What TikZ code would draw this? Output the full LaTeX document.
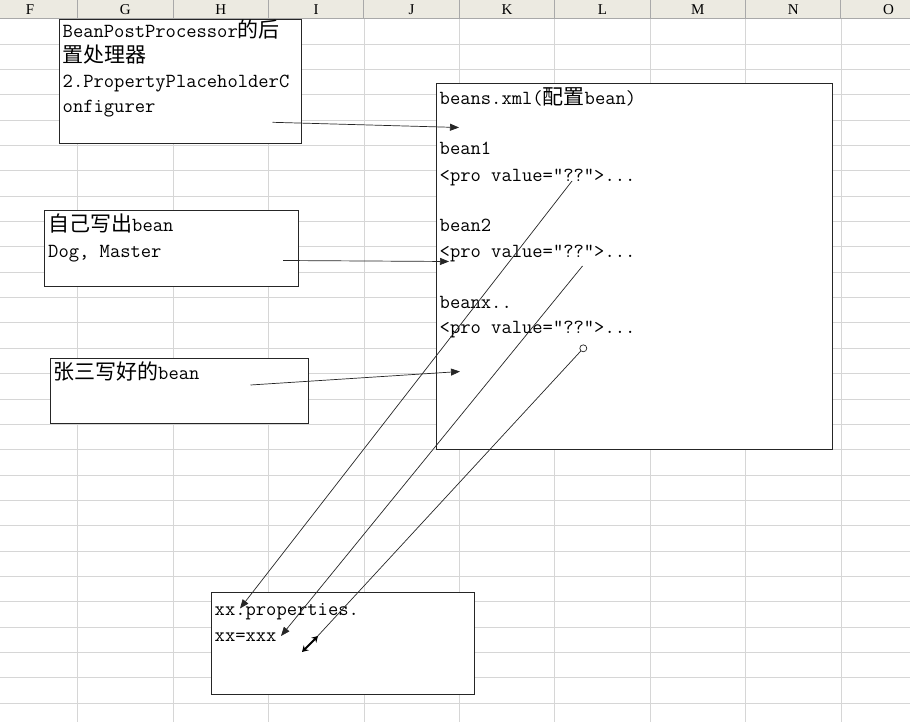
\documentclass[tikz,border=0pt]{standalone}
\usepackage{fontspec}
\usepackage{tikz}
\usetikzlibrary{arrows.meta}
\newfontfamily\latn{Latin Modern Mono}
\newfontfamily\cjk[Scale=1.05]{Noto Sans CJK SC}
\newfontfamily\hdr{Liberation Serif}
\newcommand{\zh}[1]{{\cjk #1}}
\definecolor{hdrfill}{HTML}{ECEAE1}
\definecolor{hdrline}{HTML}{A9A9A9}
\definecolor{gridline}{HTML}{D6D6D6}

\tikzset{
	cellbox/.style={draw=black!85, fill=white, line width=0.9pt, inner sep=0pt, anchor=north west},
	celltext/.style={anchor=base west, inner sep=0pt, font=\latn\fontsize{20}{24}\selectfont},
	link/.style={-{Triangle[length=9pt,width=7pt]}, line width=0.7pt, black!85},
}

\begin{document}
\begin{tikzpicture}[x=1pt, y=-1pt]
	\useasboundingbox (0,0) rectangle (910,722);
	\fill[white] (0,0) rectangle (910,722);
	% sheet grid and column heads
	\fill[hdrfill] (0,0) rectangle (910,19);
	\foreach \k in {0,...,26}
		\draw[gridline, line width=0.8pt] (0,44+25.35*\k) -- (910,44+25.35*\k);
	\foreach \i in {0,...,8} {
		\draw[hdrline, line width=0.9pt] (77.7+95.4*\i,0) -- (77.7+95.4*\i,19);
		\draw[gridline, line width=0.8pt] (77.7+95.4*\i,19) -- (77.7+95.4*\i,722);
	}
	\draw[hdrline, line width=1pt] (0,19) -- (910,19);
	\foreach \col [count=\i from 0] in {F,G,H,I,J,K,L,M,N,O}
		\node[font=\hdr\fontsize{15}{15}\selectfont, inner sep=0pt] (hd\col) at (30+95.4*\i,10) {\col};

	% boxes
	\node[cellbox, minimum width=241.7pt, minimum height=123.4pt] (ppbox) at (59.3,19.3) {};
	\node[cellbox, minimum width=395.7pt, minimum height=365.7pt] (xmlbox) at (436,83.3) {};
	\node[cellbox, minimum width=254pt, minimum height=75.7pt] (dogbox) at (44.3,210) {};
	\node[cellbox, minimum width=258.3pt, minimum height=65.6pt] (zsbox) at (50,357.7) {};
	\node[cellbox, minimum width=263.6pt, minimum height=102.3pt] (propbox) at (210.7,591.7) {};

	\node[celltext] (pp1) at (62.5,37.5) {BeanPostProcessor\zh{的后}};
	\node[celltext] (pp2) at (62.5,63) {\zh{置处理器}};
	\node[celltext] (pp3) at (62.5,87.5) {2.PropertyPlaceholderC};
	\node[celltext] (pp4) at (62.5,112.5) {onfigurer};

	\node[celltext] (xml0) at (439.5,104.5) {beans.xml(\zh{配置}bean)};
	\node[celltext] (xml1) at (439.5,155) {bean1};
	\node[celltext] (pro1) at (439.5,181.5) {<pro value=”??”>...};
	\node[celltext] (xml2) at (439.5,231) {bean2};
	\node[celltext] (pro2) at (439.5,257.5) {<pro value=”??”>...};
	\node[celltext] (xmlx) at (439.5,308) {beanx..};
	\node[celltext] (prox) at (439.5,333.5) {<pro value=”??”>...};

	\node[celltext] (dog1) at (48,232) {\zh{自己写出}bean};
	\node[celltext] (dog2) at (48,257.5) {Dog, Master};
	\node[celltext] (zs1) at (53,379) {\zh{张三写好的}bean};
	\node[celltext] (prop1) at (214.5,615) {xx.properties.};
	\node[celltext] (prop2) at (214.5,641) {xx=xxx};

	% connectors
	\coordinate (a1s) at (272.5,122.3);
	\coordinate (a1e) at (459,127.5);
	\coordinate (a2s) at (283,260.5);
	\coordinate (a2e) at (449,261.5);
	\coordinate (a3s) at (250.5,385);
	\coordinate (a3e) at (460,371.5);
	\coordinate (a4s) at (572,181);
	\coordinate (a4e) at (240,608.5);
	\coordinate (a5s) at (582.5,266);
	\coordinate (a5e) at (281,636);
	\coordinate (cur) at (315,639);
	\node[circle, draw=black!85, fill=white, line width=0.7pt, inner sep=0pt, minimum size=7pt] (dot) at (583.3,348.3) {};

	\draw[link] (a1s) -- (a1e);
	\draw[link] (a2s) -- (a2e);
	\draw[link] (a3s) -- (a3e);
	\draw[link] (a4s) -- (a4e);
	\draw[link] (a5s) -- (a5e);
	\draw[line width=0.7pt, black!85] (dot) -- (cur);
	%\draw[link] (dot) -- (cur);
	\draw[{Stealth[length=6pt,width=7pt]}-{Stealth[length=6pt,width=7pt]}, line width=2pt] (302,652) -- (318,636);
\end{tikzpicture}
\end{document}
